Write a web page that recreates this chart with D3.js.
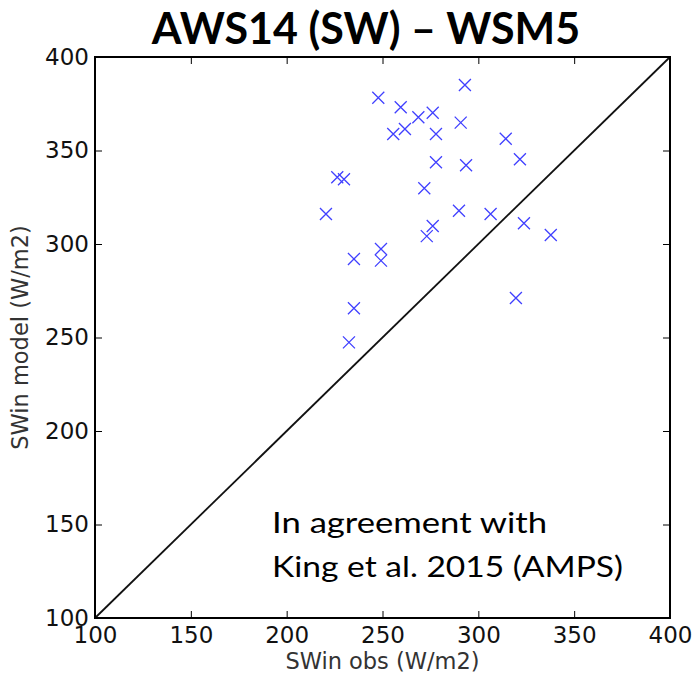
<!DOCTYPE html>
<html>
<head>
<meta charset="utf-8">
<script src="https://cdn.jsdelivr.net/npm/d3@7"></script>
<style>
  body { margin: 0; background: #fff; }
  .tick text { font-family: "DejaVu Sans", sans-serif; fill: #111; }
</style>
</head>
<body>
<script>
// observed vs modelled SWin
var obs = [293.0, 247.8, 259.5, 268.7, 276.2, 290.8, 261.7, 255.6, 277.9, 314.3,
           321.7, 277.9, 293.6, 226.4, 229.9, 271.8, 220.5, 289.9, 306.4, 323.8,
           337.8, 276.2, 273.1, 249.2, 249.2, 235.1, 235.1, 232.5, 319.6];
var model = [385.0, 378.2, 373.1, 367.8, 370.2, 364.9, 361.5, 358.8, 358.8, 356.3,
             345.3, 343.7, 342.1, 335.7, 334.6, 329.8, 316.0, 317.8, 316.0, 311.1,
             304.8, 309.6, 304.2, 297.3, 291.1, 292.0, 265.6, 247.4, 271.1];
var ticks = [100, 150, 200, 250, 300, 350, 400];

var width = 693,
    height = 675,
    margin = {top: 57, right: 23, bottom: 57, left: 95},
    iwidth = width - margin.left - margin.right,
    iheight = height - margin.top - margin.bottom;

var points = obs.map(function(d, i) { return {x: d, y: model[i]}; });

var svg = d3.select("body").append("svg")
    .attr("width", width)
    .attr("height", height);

var g = svg.append("g")
    .attr("transform", "translate(" + margin.left + "," + margin.top + ")");

var xScale = d3.scaleLinear().domain([100, 400]).range([0, iwidth]);
var yScale = d3.scaleLinear().domain([100, 400]).range([iheight, 0]);

// 1:1 line
g.append("line")
    .attr("x1", xScale(100)).attr("y1", yScale(100))
    .attr("x2", xScale(400)).attr("y2", yScale(400))
    .attr("stroke", "#111")
    .attr("stroke-width", 1.8);

// x markers
var s = 6;
g.selectAll(".pt")
    .data(points)
    .enter().append("path")
    .attr("class", "pt")
    .attr("d", function(d) {
        var cx = xScale(d.x), cy = yScale(d.y);
        return "M" + (cx - s) + "," + (cy - s) + "L" + (cx + s) + "," + (cy + s) +
               "M" + (cx - s) + "," + (cy + s) + "L" + (cx + s) + "," + (cy - s);
    })
    .attr("stroke", "#4040ff")
    .attr("stroke-width", 1.3)
    .attr("fill", "none");

// axes, ticks pointing inward
var xAxis = g.append("g")
    .attr("transform", "translate(0," + iheight + ")")
    .call(d3.axisBottom(xScale).tickValues(ticks).tickSizeInner(-7).tickSizeOuter(0).tickPadding(8));
xAxis.selectAll("text").style("font-size", "23px").attr("dy", "0.75em");

var yAxis = g.append("g")
    .call(d3.axisLeft(yScale).tickValues(ticks).tickSizeInner(-7).tickSizeOuter(0).tickPadding(6));
yAxis.selectAll("text").style("font-size", "23px");

g.append("g")
    .call(d3.axisTop(xScale).tickValues(ticks).tickSizeInner(-7).tickSizeOuter(0).tickFormat(""));
g.append("g")
    .attr("transform", "translate(" + iwidth + ",0)")
    .call(d3.axisRight(yScale).tickValues(ticks).tickSizeInner(-7).tickSizeOuter(0).tickFormat(""));

g.selectAll(".domain").remove();
g.selectAll(".tick line").attr("stroke", "#000").attr("stroke-width", 1);

// frame
g.append("rect")
    .attr("width", iwidth)
    .attr("height", iheight)
    .attr("fill", "none")
    .attr("stroke", "#000")
    .attr("stroke-width", 2);

// axis labels
g.append("text")
    .attr("x", iwidth / 2)
    .attr("y", iheight + 51)
    .attr("text-anchor", "middle")
    .style("font-family", "DejaVu Sans")
    .style("font-size", "22.5px")
    .attr("fill", "#333")
    .text("SWin obs (W/m2)");

g.append("text")
    .attr("transform", "rotate(-90)")
    .attr("x", -iheight / 2)
    .attr("y", -67)
    .attr("text-anchor", "middle")
    .style("font-family", "DejaVu Sans")
    .style("font-size", "22.5px")
    .attr("fill", "#333")
    .text("SWin model (W/m2)");

// title
svg.append("text")
    .attr("x", 366)
    .attr("y", 44)
    .attr("text-anchor", "middle")
    .style("font-family", "Lato")
    .style("font-weight", "bold")
    .style("font-size", "43px")
    .text("AWS14 (SW) \u2013 WSM5");

// note
var note = svg.append("text")
    .style("font-family", "Lato")
    .style("font-size", "28px")
    .attr("fill", "#000");
note.append("tspan").attr("x", 272).attr("y", 533)
    .attr("textLength", 275).attr("lengthAdjust", "spacingAndGlyphs")
    .text("In agreement with");
note.append("tspan").attr("x", 272).attr("y", 577)
    .attr("textLength", 351).attr("lengthAdjust", "spacingAndGlyphs")
    .text("King et al. 2015 (AMPS)");
</script>
</body>
</html>
